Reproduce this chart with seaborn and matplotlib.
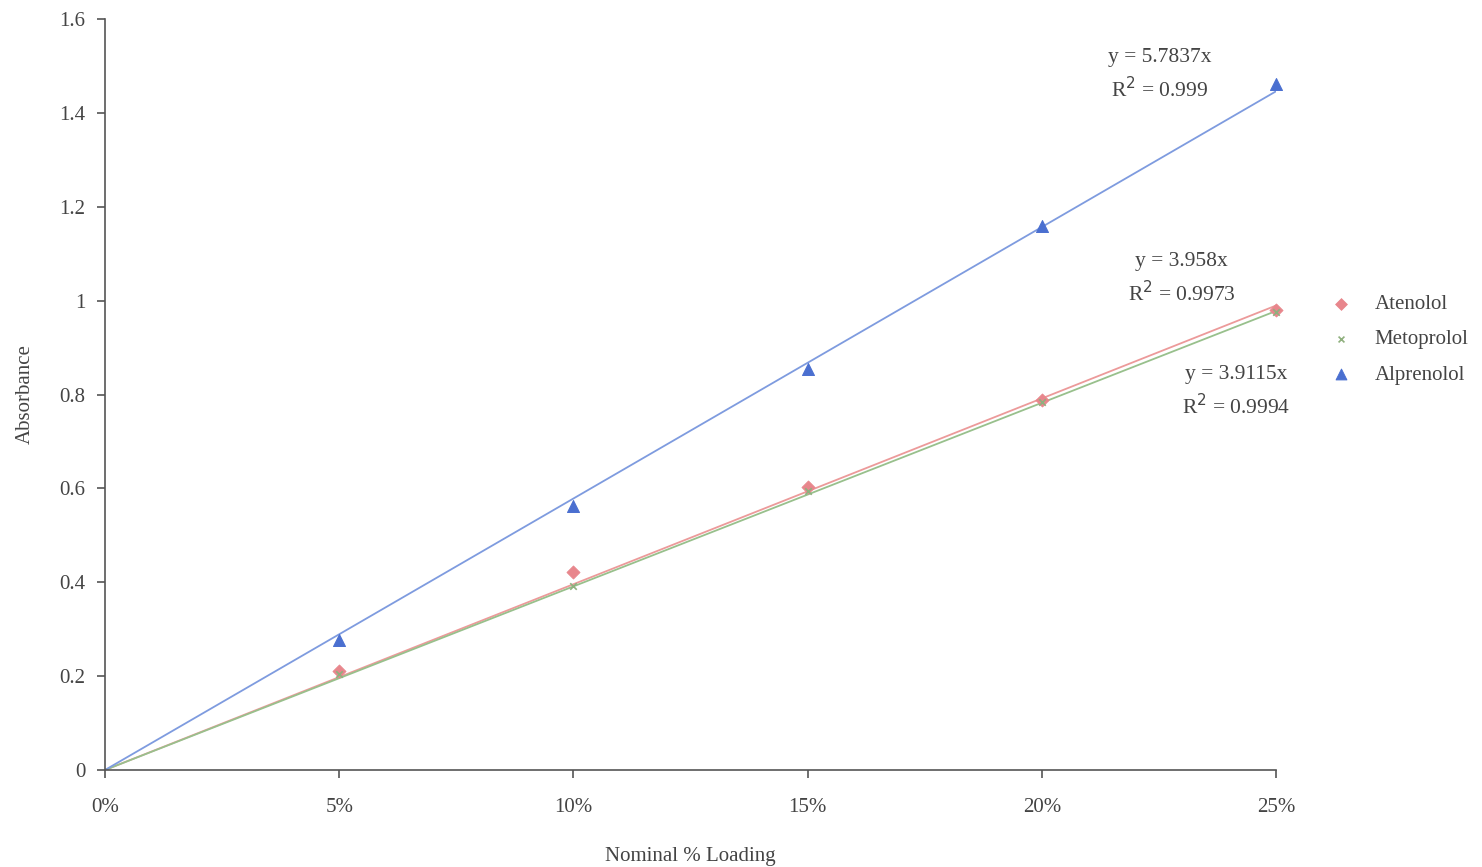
import numpy as np
import pandas as pd
import matplotlib
matplotlib.use("Agg")
import matplotlib.pyplot as plt
import seaborn as sns
from matplotlib.ticker import FuncFormatter, MultipleLocator

# Nominal drug loading (fraction) and measured absorbance
loading = [0.05, 0.10, 0.15, 0.20, 0.25]
atenolol = [0.211, 0.422, 0.603, 0.788, 0.980]
metoprolol = [0.205, 0.392, 0.594, 0.784, 0.976]
alprenolol = [0.277, 0.562, 0.854, 1.159, 1.461]

drugs = ["Atenolol", "Metoprolol", "Alprenolol"]
slopes = [3.958, 3.9115, 5.7837]
r_squared = ["0.9973", "0.9994", "0.999"]

colors = {"Atenolol": "#E8868C", "Metoprolol": "#8FB07E", "Alprenolol": "#4A6FD0"}
line_colors = {"Atenolol": "#EC9A9A", "Metoprolol": "#98C08C", "Alprenolol": "#7E9BDF"}
markers = {"Atenolol": "D", "Metoprolol": "x", "Alprenolol": "^"}
sizes = {"Atenolol": 45, "Metoprolol": 22, "Alprenolol": 75}

sns.set_style("white")
plt.rcParams["font.family"] = ["Liberation Serif", "DejaVu Serif"]

points = pd.DataFrame({
    "loading": loading * 3,
    "absorbance": atenolol + metoprolol + alprenolol,
    "drug": [d for d in drugs for _ in loading],
})

fig = plt.figure(figsize=(14.82, 8.67), dpi=100)
ax = fig.add_axes([105 / 1482, 97 / 867, (1276 - 105) / 1482, (770 - 19) / 867])

# Linear trendlines through the origin
xs = np.array([0.0, 0.25])
for drug, m in zip(drugs, slopes):
    fit = pd.DataFrame({"loading": xs, "absorbance": m * xs})
    sns.lineplot(data=fit, x="loading", y="absorbance", ax=ax,
                 color=line_colors[drug], lw=1.3, zorder=2)

for drug in drugs:
    sub = points[points["drug"] == drug]
    kw = dict(edgecolor=colors[drug]) if markers[drug] != "x" else dict(linewidth=1.2)
    sns.scatterplot(data=sub, x="loading", y="absorbance", ax=ax,
                    marker=markers[drug], color=colors[drug], s=sizes[drug],
                    label=drug, zorder=3, clip_on=False, **kw)

ax.set_xlim(0, 0.25)
ax.set_ylim(0, 1.6)
ax.xaxis.set_major_locator(MultipleLocator(0.05))
ax.yaxis.set_major_locator(MultipleLocator(0.2))
ax.xaxis.set_major_formatter(FuncFormatter(lambda v, p: f"{v * 100:.0f}%"))
ax.yaxis.set_major_formatter(FuncFormatter(lambda v, p: f"{v:.1f}".rstrip("0").rstrip(".") if v else "0"))

for side in ("top", "right"):
    ax.spines[side].set_visible(False)
for side in ("left", "bottom"):
    ax.spines[side].set_color("#555555")
    ax.spines[side].set_linewidth(1.2)
ax.tick_params(axis="both", direction="out", length=6, width=1.2, color="#555555",
               labelsize=15, labelcolor="#444444", bottom=True, left=True)
ax.tick_params(axis="x", pad=14)
ax.tick_params(axis="y", pad=8)

ax.set_xlabel("Nominal % Loading", fontsize=15, color="#444444", labelpad=22)
ax.set_ylabel("Absorbance", fontsize=15, color="#444444", labelpad=18)

# Trendline equations
eq_pos = {"Alprenolol": (0.2252, 1.481), "Atenolol": (0.2299, 1.046), "Metoprolol": (0.2415, 0.805)}
for drug, m, r2 in zip(drugs, slopes, r_squared):
    x0, y0 = eq_pos[drug]
    ax.text(x0, y0, f"y = {m:g}x\nR$^2$ = {r2}", ha="center", va="center",
            fontsize=15.5, color="#444444", linespacing=1.5)

leg = ax.legend(loc="center left", bbox_to_anchor=(1.022, 0.573), frameon=False,
                fontsize=15, handletextpad=0.6, labelspacing=0.75, markerscale=0.9)
for t in leg.get_texts():
    t.set_color("#444444")

fig.savefig("out.png", dpi=100, facecolor="white")
